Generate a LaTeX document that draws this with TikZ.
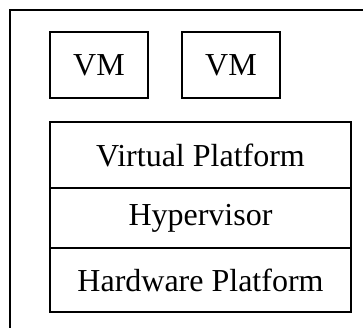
\documentclass[tikz,border=0pt]{standalone}
\usepackage{fontspec}
\setmainfont{Liberation Serif}

\tikzset{
    layer/.style={draw, line width=2.4pt, inner sep=0pt, font=\fontsize{32}{38}\selectfont},
}

\begin{document}
\begin{tikzpicture}[x=1pt, y=-1pt] %stack
            \clip (0,0) rectangle (363,327);
            \draw[line width=2.4pt] (10,10) rectangle (420,400);

            \node[layer, minimum width=98pt, minimum height=66pt] (vmA) at (99,65) {VM};
            \node[layer, minimum width=98pt, minimum height=66pt] (vmB) at (231,65) {VM};

            \node[layer, minimum width=301pt, minimum height=66pt] (virt) at (200.5,155) {Virtual Platform};
            \node[layer, minimum width=301pt, minimum height=60pt] (hyp) at (200.5,218) {Hypervisor};
            \node[layer, minimum width=301pt, minimum height=64pt] (hw) at (200.5,280) {Hardware Platform};
        \end{tikzpicture}
\end{document}
